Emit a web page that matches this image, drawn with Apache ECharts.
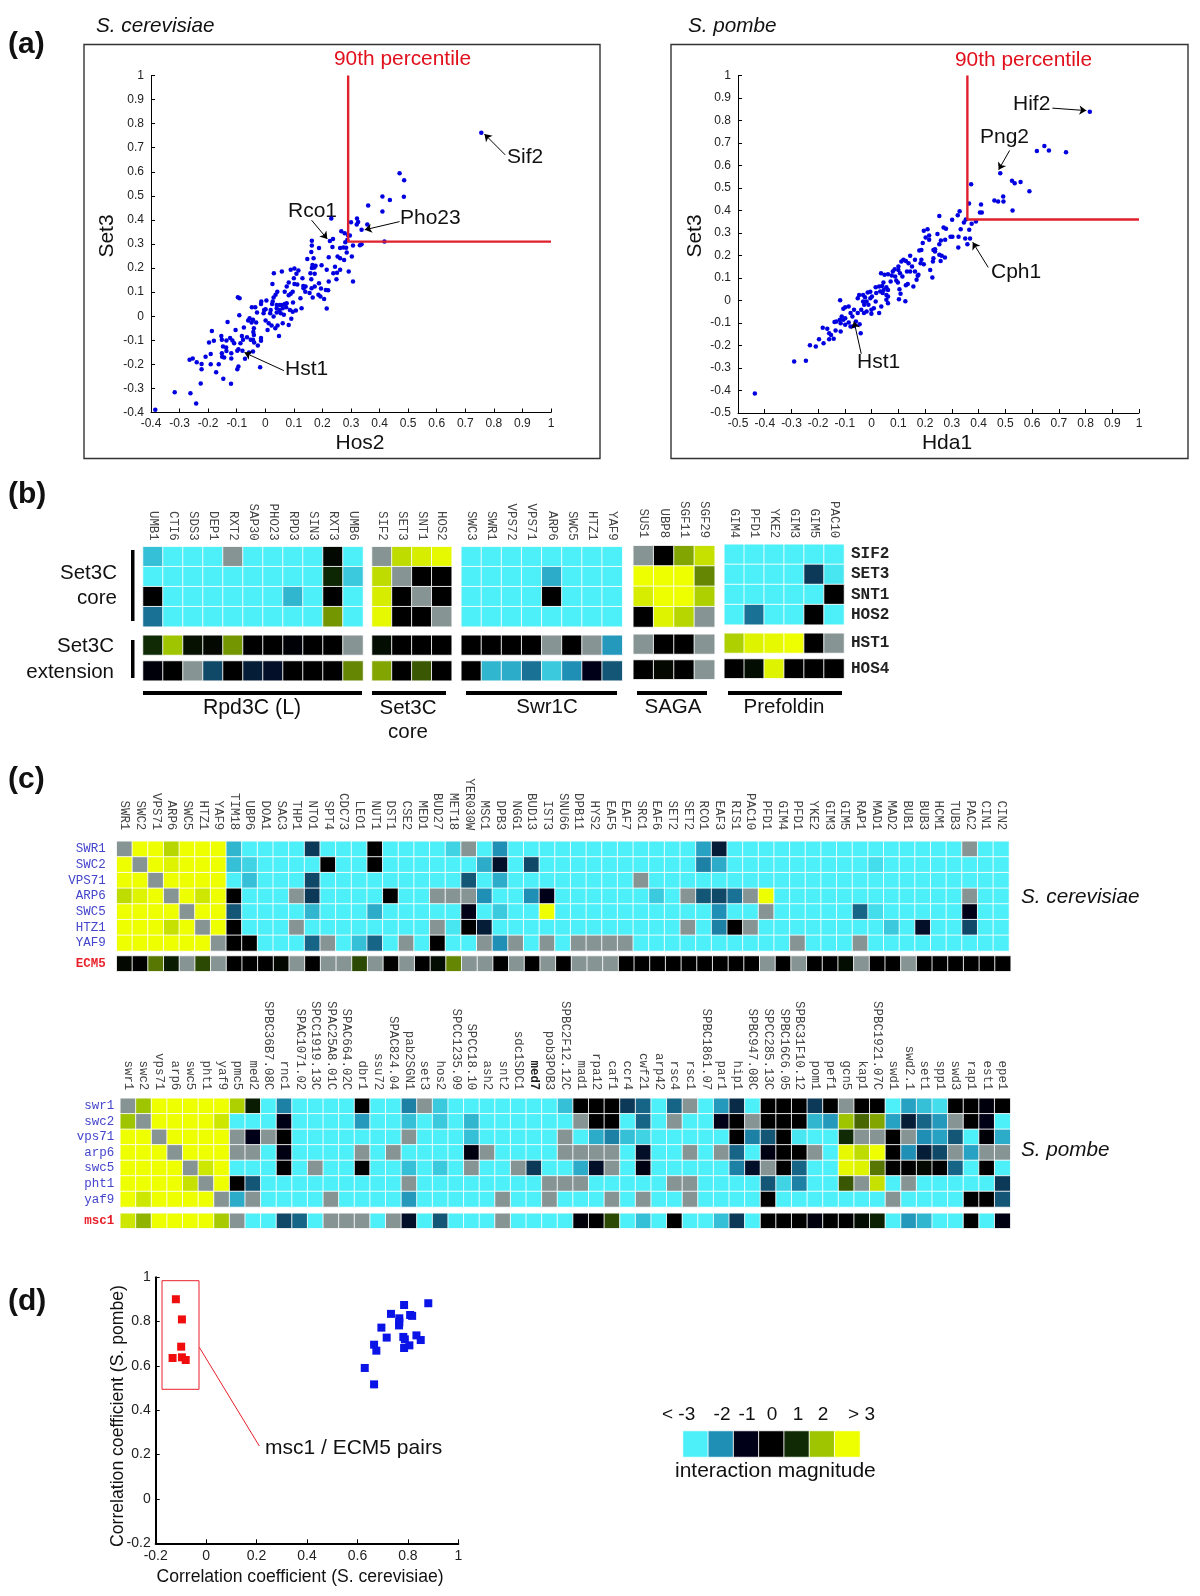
<!DOCTYPE html>
<html>
<head>
<meta charset="utf-8">
<title>Set3C interactions</title>
<script src="https://cdn.jsdelivr.net/npm/echarts@6/dist/echarts.min.js"></script>
<style>
  html, body { margin: 0; padding: 0; background: #fff; }
  #main { width: 1200px; height: 1596px; }
</style>
</head>
<body>
<div id="main"></div>
<script type="text/javascript">
// (a) scatter values, [x, y]
var cerevisiaePoints = [[.756,.762],[.47,.594],[.486,.565],[.485,.496],[.41,.497],[.436,.483],[.36,.46],[.41,.435],[.231,.406],[.30,.39],[.321,.406],[.325,.391],[.32,.381],[.357,.381],[.337,.359],[.417,.31],[.266,.353],[.278,.345],[.296,.335],[.29,.335],[.287,.317],[.28,.307],[.237,.321],[.226,.312],[.163,.314],[.163,.294],[.235,.288],[.273,.285],[.262,.283],[.283,.284],[.307,.294],[.331,.295],[.337,.299],[.188,.283],[.161,.267],[.285,.265],[.303,.248],[.253,.248],[.262,.241],[.276,.234],[.222,.245],[.169,.241],[.147,.238],[.165,.213],[.176,.21],[.163,.2],[.172,.202],[.197,.212],[.215,.193],[.244,.206],[.262,.193],[.251,.181],[.238,.179],[.292,.186],[.249,.154],[.307,.144],[.222,.144],[.158,.179],[.173,.176],[.161,.154],[.188,.137],[.195,.115],[.173,.123],[.162,.116],[.141,.123],[.134,.116],[.133,.126],[.14,.102],[.155,.096],[.166,.078],[.186,.089],[.193,.082],[.206,.071],[.212,.109],[.22,.108],[.215,.032],[.089,.193],[.102,.198],[.116,.19],[.109,.176],[.13,.158],[.1,.158],[.082,.14],[.102,.134],[.112,.132],[.058,.186],[.03,.179],[.025,.134],[.075,.123],[.068,.102],[.042,.102],[.096,.102],[.089,.093],[.082,.087],[.123,.075],[.097,.057],[.127,.033],[.036,.089],[.029,.078],[.026,.061],[.024,.051],[.04,.047],[.051,.047],[.058,.047],[.068,.051],[.075,.054],[.04,.033],[.05,.026],[.061,.033],[.073,.037],[.086,.026],[.096,.019],[.107,.024],[.04,.015],[.054,.012],[.065,.006],[.004,.065],[-.014,.061],[-.015,.051],[-.047,.037],[-.035,.037],[-.029,.015],[-.004,.026],[.001,.029],[-.006,.012],[.019,.026],[.017,.012],[.029,-.001],[-.096,.079],[-.09,.075],[-.091,.004],[-.055,-.008],[-.043,-.015],[-.06,-.018],[-.032,-.026],[-.048,-.026],[-.132,-.024],[.001,-.018],[.012,-.029],[.022,-.039],[.035,-.05],[.061,-.029],[.082,-.036],[.091,-.011],[.043,-.039],[.048,-.082],[.008,-.057],[-.075,-.047],[-.04,-.05],[-.042,-.066],[-.04,-.078],[-.015,-.091],[-.015,-.102],[-.051,-.098],[-.043,-.098],[-.039,-.109],[-.026,-.122],[-.064,-.087],[-.082,-.082],[-.104,-.057],[-.078,-.098],[-.087,-.112],[-.109,-.112],[-.123,-.091],[-.115,-.101],[-.154,-.082],[-.152,-.098],[-.136,-.101],[-.148,-.126],[-.137,-.13],[-.136,-.145],[-.152,-.154],[-.151,-.168],[-.119,-.154],[-.098,-.143],[-.094,-.137],[-.08,-.143],[-.057,-.151],[-.043,-.147],[-.071,-.177],[-.119,-.176],[-.144,-.172],[-.094,-.209],[-.098,-.22],[-.018,-.212],[-.385,-.389],[-.317,-.316],[-.262,-.32],[-.242,-.363],[-.265,-.181],[-.254,-.176],[-.24,-.191],[-.223,-.198],[-.223,-.22],[-.226,-.28],[-.209,-.168],[-.191,-.157],[-.191,-.2],[-.197,-.109],[-.187,-.061],[-.18,-.102],[-.172,-.233],[-.163,-.2],[-.147,-.26],[-.12,-.281]];
var pombePoints = [[.816,.839],[.646,.687],[.618,.665],[.663,.667],[.727,.659],[.481,.566],[.525,.532],[.535,.521],[.557,.527],[.59,.486],[.372,.517],[.492,.462],[.459,.444],[.473,.44],[.493,.44],[.527,.4],[.364,.431],[.409,.427],[.405,.391],[.412,.391],[.329,.397],[.322,.379],[.253,.376],[.352,.36],[.345,.347],[.39,.351],[.374,.341],[.301,.359],[.333,.317],[.365,.314],[.209,.317],[.195,.31],[.269,.324],[.278,.319],[.246,.296],[.215,.289],[.202,.28],[.215,.27],[.191,.256],[.295,.283],[.302,.283],[.325,.283],[.35,.276],[.368,.276],[.275,.27],[.259,.267],[.253,.25],[.358,.25],[.324,.236],[.237,.228],[.231,.225],[.237,.218],[.178,.222],[.186,.225],[.253,.203],[.262,.199],[.274,.191],[.231,.188],[.258,.176],[.229,.173],[.186,.181],[.183,.166],[.195,.161],[.219,.136],[.227,.102],[.111,.173],[.119,.181],[.128,.176],[.144,.199],[.162,.181],[.138,.166],[.151,.151],[.132,.129],[.144,.129],[.162,.129],[.172,.11],[.175,.114],[.168,.092],[.156,.062],[.128,.068],[.135,.073],[.115,.107],[.106,.121],[.086,.139],[.079,.129],[.088,.107],[.1,.151],[.1,.136],[.035,.121],[.048,.114],[.061,.117],[.075,.111],[.071,.084],[.092,.089],[.098,.08],[.044,.08],[.015,.059],[.028,.062],[.039,.065],[.055,.059],[.061,.047],[.045,.047],[.032,.04],[.041,.033],[.055,.025],[.061,.018],[.017,.033],[-.005,.039],[-.015,.036],[.001,.018],[-.025,.015],[-.032,.025],[-.047,.025],[-.052,.01],[-.005,.01],[-.019,-.004],[-.032,-.004],[-.028,-.019],[-.012,-.019],[-.001,-.041],[.008,-.034],[.028,-.056],[.061,-.012],[.104,.05],[.108,.03],[.102,.006],[.126,-.003],[.055,.003],[.036,-.027],[.015,-.004],[-.118,.001],[-.106,-.037],[-.086,-.027],[-.099,-.03],[-.066,-.041],[-.079,-.056],[-.072,-.071],[-.052,-.056],[-.039,-.041],[-.019,-.049],[-.001,-.059],[-.029,-.056],[-.112,-.071],[-.106,-.086],[-.119,-.086],[-.099,-.079],[-.132,-.093],[-.116,-.101],[-.099,-.108],[-.086,-.098],[-.059,-.093],[-.045,-.105],[-.066,-.113],[-.079,-.116],[-.041,-.145],[-.139,-.096],[-.183,-.121],[-.166,-.126],[-.159,-.145],[-.152,-.153],[-.135,-.133],[-.116,-.138],[-.142,-.17],[-.159,-.172],[-.18,-.19],[-.197,-.172],[-.209,-.204],[-.231,-.199],[-.29,-.271],[-.246,-.268],[-.437,-.413]];
var cerevisiaeCutoff = [0.29, 0.31];
var pombeCutoff = [0.358, 0.36];

// (d) scatter values
var conservedPairs = [[.629,.591],[.666,.517],[.666,.696],[.675,.669],[.695,.773],[.716,.728],[.733,.835],[.766,.815],[.766,.797],[.765,.783],[.785,.875],[.809,.83],[.817,.826],[.782,.731],[.788,.72],[.785,.681],[.806,.693],[.834,.738],[.851,.717],[.881,.883]];
var msc1Ecm5Pairs = [[-.12,.901],[-.096,.81],[-.099,.687],[-.133,.636],[-.096,.639],[-.081,.627]];

// heat map values, g = not measured (grey cell)
var g = null;
var legendValues = [-3, -2, -1, 0, 1, 2, 3];

// (b)
var rpd3Genes = ['UMB1','CTI6','SDS3','DEP1','RXT2','SAP30','PHO23','RPD3','SIN3','RXT3','UMB6'];
var rpd3Core = [
  [-2.5,-3,-3,-3,g,-3,-3,-3,-3,.2,-3],
  [-3,-3,-3,-3,-3,-3,-3,-3,-3,.9,-2.6],
  [0,-3,-3,-3,-3,-3,-3,-2.4,-3,0,-3],
  [-1.8,-3,-3,-3,-3,-3,-3,-3,-3,1.7,-3]];
var rpd3Hst1 = [1,2,.4,.2,1.7,0,0,-.3,0,0,g];
var rpd3Hos4 = [-.4,0,g,-1.5,0,-1.2,-1.1,0,0,0,1.6];
var set3Genes = ['SIF2','SET3','SNT1','HOS2'];
var set3Core = [[g,2.4,2.7,2.9],[2.4,g,0,0],[2.7,0,g,0],[2.9,0,0,g]];
var set3Hst1 = [.3,0,0,0];
var set3Hos4 = [1.8,0,1.3,0];
var swr1Genes = ['SWC3','SWR1','VPS72','VPS71','ARP6','SWC5','HTZ1','YAF9'];
var swr1Core = [
  [-3,-3,-3,-3,-3,-3,-3,-3],
  [-3,-3,-3,-3,-2.3,-3,-3,-3],
  [-3,-3,-3,-3,0,-3,-3,-3],
  [-3,-3,-3,-3,-3,-3,-3,-3]];
var swr1Hst1 = [0,0,0,0,g,0,g,-2.1];
var swr1Hos4 = [0,-2.4,-2.3,-1.8,-2.6,-2,-1,-1.6];
var sagaGenes = ['SUS1','UBP8','SGF11','SGF29'];
var sagaCore = [[g,0,1.8,2.5],[3,3,3,1.6],[2.7,3,3,2.2],[0,2.8,2.3,g]];
var sagaHst1 = [g,0,0,g];
var sagaHos4 = [0,.2,0,g];
var prefoldinGenes = ['GIM4','PFD1','YKE2','GIM3','GIM5','PAC10'];
var prefoldinCore = [
  [-3,-3,-3,-3,-3,-3],
  [-3,-3,-3,-3,-1.4,-2.9],
  [-3,-3,-3,-3,-3,0],
  [-3,-1.8,-3,-3,0,-3]];
var prefoldinHst1 = [2.2,2.8,2.9,3,0,g];
var prefoldinHos4 = [0,.3,2.8,0,0,0];
var coreRows = ['SIF2','SET3','SNT1','HOS2'];

// (c) S. cerevisiae
var cerGenes = ['SWR1','SWC2','VPS71','ARP6','SWC5','HTZ1','YAF9','TIM18','UBP6','DOA1','SAC3','THP1','NTO1','SPT4','CDC73','LEO1','NUT1','DST1','CSE2','MED1','BUD27','MET18','YER030W','MSC1','DPB3','NGG1','BUD13','IST3','SNU66','DPB11','HYS2','EAF5','EAF7','SRC1','EAF6','SET2','SET2','RCO1','EAF3','RIS1','PAC10','PFD1','GIM4','PFD1','YKE2','GIM3','GIM5','RAP1','MAD1','MAD2','BUB1','BUB3','HCM1','TUB3','PAC2','CIN1','CIN2'];
var cerRows = ['SWR1','SWC2','VPS71','ARP6','SWC5','HTZ1','YAF9'];
var cerMatrix = [
  [g,3,3,2.3,3,3,3,-2.4,-3,-3,-3,-3,-1.4,-3,-3,-3,0,-3,-3,-3,-3,-2.7,g,-3,-2,-3,-3,-3,-3,-3,-3,-3,-3,-3,-3,-3,-3,-2.2,-1.2,-3,-3,-3,-3,-3,-3,-3,-3,-3,-3,-3,-3,-3,-3,-3,g,-3,-3],
  [3,g,3,2.8,3,3,3,-2.5,-2.7,-3,-3,-3,-3,0,-3,-3,0,-3,-3,-3,-3,-3,-3,-2.3,-1.1,-3,-1.5,-3,-3,-3,-3,-3,-3,-3,-3,-3,-3,-1.9,-2.3,-3,-3,-3,-3,-3,-3,-3,-3,-3,-2.8,-3,-3,-3,-3,-3,-3,-3,-3],
  [3,3,g,3,3,3,3,-3,-2.5,-3,-3,-3,-1.5,-3,-3,-3,-3,-3,-3,-3,-3,-3,-1.6,-3,-2.3,-3,-3,-3,-3,-3,-3,-3,-3,g,-3,-3,-3,-3,-3,-3,-3,-3,-3,-3,-3,-3,-3,-3,-3,-3,-3,-3,-3,-3,-3,-3,-3],
  [2.4,2.8,3,g,3,2.6,3,0,-3,-3,-3,g,-1.4,-3,-3,-3,-3,0,-3,-3,g,g,g,-2,-3,-3,-2,-1,-3,-3,-3,-3,-3,-3,-2.6,-3,g,-1.6,-1.5,-1.8,g,3,-3,-3,-3,-3,-3,-3,-3,-3,-3,-3,-3,-3,g,-3,-3],
  [3,3,3,3,g,3,3,-1.6,-3,-3,-3,-3,-2.4,-3,-3,-3,-2.3,-3,-3,-3,-3,-3,-.9,-3,-2.6,-3,-3,3,-3,-3,-3,-3,-3,-3,-3,-3,-3,-3,-2,-3,-3,g,-3,-3,-3,-3,-3,-1.7,-2.8,-3,-3,-3,-3,-3,-.9,-3,-3],
  [3,3,3,2.5,3,g,3,0,-3,-3,-3,g,-3,-3,-3,-3,-3,-3,-3,-3,g,-2.9,0,-1.2,-3,-3,-3,-3,-3,-3,-3,-3,-3,-3,-3,-3,g,-3,-1.9,0,g,-3,-3,-3,-3,-3,-3,-3,-3,-2.6,-3,-1.1,-3,-3,-1.5,-3,-3],
  [3,3,3,3,3,3,g,0,0,-3,-3,-3,-1.7,g,-3,-2.5,-1.7,-3,g,-3,0,-3,-3,g,-2,g,-3,g,-3,g,g,g,g,-3,-3,-3,-3,-3,-3,-3,-3,-3,-3,g,-3,-3,-3,g,-3,-3,-3,-3,-3,-3,-3,-3,-3]];
var ecm5Row = [.2,0,1.5,.7,g,1.2,g,0,0,0,.2,g,0,g,g,1.2,g,0,g,0,.3,1.6,g,g,0,g,0,g,0,g,g,g,0,0,0,0,0,0,0,0,0,g,0,g,0,0,.3,g,0,0,g,0,0,0,0,0,0];

// (c) S. pombe
var pomGenes = ['swr1','swc2','vps71','arp6','swc5','pht1','yaf9','pmc5','med2','SPBC36B7.08C','rnc1','SPAC1071.02','SPCC1919.13C','SPAC25A8.01C','SPAC664.02C','dbr1','ssu72','SPAC824.04','pab2SGN1','set3','hos2','SPCC1235.09','SPCC18.10','ash2','snt2','sdc1SDC1','med7','pob3POB3','SPBC2F12.12C','mad1','rpa12','caf1','ccr4','cwf21','arp42','rsc4','rsc1','SPBC1861.07','par1','hip1','SPBC947.08C','SPCC285.13C','SPBC16C6.05','SPBC31F10.12','pom1','pef1','gcn5','kap1','SPBC1921.07C','swd1','swd2.1','set1','spp1','swd3','rap1','est1','epe1'];
var pomRows = ['swr1','swc2','vps71','arp6','swc5','pht1','yaf9'];
var pomMatrix = [
  [g,2,3,3,3,3,3,2.2,.7,-3,-1.9,-3,-3,-3,-3,0,-3,-3,-1.9,g,-2.6,-3,-3,-3,-3,-3,-3,-3,-2.5,0,0,0,-1.4,-1.7,-3,-1.7,g,-3,-2.1,-1.3,-3,0,0,0,-1.4,0,g,0,0,-3,-2.2,-2.5,-2.8,0,0,-.5,0],
  [2,g,3,3,3,3,2.6,-3,-3,-3,-.9,-3,-3,-3,-3,-2.1,-3,-3,-2.5,-3,-2.6,-3,-2.4,-3,-3,-3,-3,-3,-3,g,0,0,-3,-1.7,-3,g,-3,-3,-1,0,g,0,0,0,-2.4,-2.1,2,1.4,1.8,-2.2,-1.2,-1.7,-2.1,g,0,-.9,-3],
  [3,3,g,3,3,3,3,g,-1,g,0,-3,-3,-3,-3,-3,-3,-3,g,-3,-3,-3,-2.5,-3,-3,-3,-3,-3,g,-3,-2.3,-1.9,-2.5,-2.7,-3,-3,-3,-3,-3,0,-1.9,-1.6,0,-2.9,-3,-3,1,g,g,0,g,-2,-2.2,-1.6,-3,-.3,-2.3],
  [3,3,3,g,3,3,3,g,g,-3,-.8,-3,-3,-3,-3,g,-3,g,-3,-3,-3,-3,-.7,g,-3,-3,-3,-3,g,g,g,g,-3,-1.1,-3,-3,g,-3,g,-1.7,-3,-.8,0,0,g,-3,2.9,2.4,3,0,-2,-1.2,-1.5,g,-2.2,g,g],
  [3,3,3,3,g,2.6,3,-3,-3,-3,0,-3,g,-3,-3,0,-3,-3,-2.5,-3,-2.6,-3,g,-3,-3,g,-1.4,-3,-3,-2.3,-1.1,g,-3,-.8,-3,-3,-3,-3,-3,-1.9,-1.1,g,0,-1.7,-3,-3,2.9,2.8,1.5,0,0,.2,0,-1.7,-3,0,-3],
  [3,3,3,3,2.5,g,3,0,-1.6,-3,-3,-3,-3,-3,-3,-3,-3,-3,g,-3,-3,-3,-3,-3,-3,-3,-3,g,g,g,-3,-3,-3,-3,-3,g,g,-3,-3,-3,-3,-1.6,-2.7,-1.9,-3,-3,1.3,g,2.5,-3,g,-3,-3,-3,-3,-3,-1.4],
  [3,2.6,3,3,3,3,g,-2.3,g,-3,-3,-3,-3,g,-3,-3,-3,-3,-2.1,-3,-3,-3,-3,-3,g,-3,-3,g,-3,-3,-3,g,-3,g,-3,-3,g,-3,-3,-3,-3,0,-3,-3,-3,-3,-3,-3,-3,g,-3,-3,-3,-3,0,0,-1.6]];
var msc1Row = [2.6,1.9,3,3,3,3,2.1,g,-3,-3,-1.5,-1.7,-3,g,g,g,-3,g,-1.1,-3,-1.6,-3,-3,-3,g,-3,-3,-3,-3,-.4,0,1.2,-3,-2.5,-3,0,-3,-3,-2.5,-1.4,-3,0,0,0,-.6,0,0,.3,.8,-3,-2.1,-2.4,-3,-3,0,-3,-.8];

var NA_VALUE = 9;
var sans = '"Liberation Sans", Arial, sans-serif';
var mono = '"Liberation Mono", "Courier New", monospace';

var grids = [], xAxes = [], yAxes = [], series = [], heatSeries = [];

function heat(rect, rows, colNames, colMargin, rowNames, rowMargin, rowStyle) {
  var idx = grids.length;
  var data = [];
  rowStyle = rowStyle || {};
  rows.forEach(function (row, r) {
    row.forEach(function (v, c) {
      data.push([c, r, v === null ? NA_VALUE : v]);
    });
  });
  grids.push({ left: rect[0], top: rect[1], width: rect[2] - rect[0], height: rect[3] - rect[1] });
  xAxes.push({
    gridIndex: idx, type: 'category', position: 'top', show: !!colNames,
    data: colNames || rows[0].map(function (v, i) { return i; }),
    axisLine: { show: false }, axisTick: { show: false },
    axisLabel: {
      rotate: 90, interval: 0, margin: colMargin || 8, fontFamily: mono, fontSize: 12.4, color: '#444',
      formatter: function (v) { return v === 'med7' ? '{b|med7}' : v; },
      rich: { b: { fontFamily: mono, fontSize: 12.4, fontWeight: 'bold', color: '#222' } }
    }
  });
  yAxes.push({
    gridIndex: idx, type: 'category', inverse: true, show: !!rowNames, position: rowStyle.side || 'left',
    data: rowNames || rows.map(function (v, i) { return i; }),
    axisLine: { show: false }, axisTick: { show: false },
    axisLabel: {
      interval: 0, margin: rowMargin || 8, fontFamily: mono, fontSize: rowStyle.size || 12.5,
      fontWeight: rowStyle.weight || 'normal', color: rowStyle.color || '#4444cc', padding: rowStyle.padding || 0
    }
  });
  heatSeries.push(series.length);
  series.push({
    type: 'heatmap', xAxisIndex: idx, yAxisIndex: idx, data: data, silent: true,
    itemStyle: { borderColor: 'rgba(255,255,255,0.85)', borderWidth: 1 }
  });
}

function scatterGrid(rect, xRange, yRange, interval, tickSize, lineWidth, labelMargin) {
  var idx = grids.length;
  grids.push({ left: rect[0], top: rect[1], width: rect[2] - rect[0], height: rect[3] - rect[1] });
  function axis(range, pos, margin) {
    return {
      gridIndex: idx, type: 'value', min: range[0], max: range[1], interval: interval, position: pos,
      splitLine: { show: false },
      axisLine: { show: true, onZero: false, lineStyle: { color: '#000', width: lineWidth } },
      axisTick: { show: true, inside: true, length: 4, lineStyle: { color: '#000', width: 1 } },
      axisLabel: { show: true, margin: margin, fontFamily: sans, fontSize: tickSize, color: '#222', showMinLabel: true, showMaxLabel: true }
    };
  }
  xAxes.push(axis(xRange, 'bottom', labelMargin[0]));
  yAxes.push(axis(yRange, 'left', labelMargin[1]));
  return idx;
}

function arrows(list) {
  return {
    silent: true, animation: false, symbol: ['none', 'arrow'], symbolSize: 7,
    label: { show: false }, lineStyle: { color: '#000', width: 1, type: 'solid' },
    emphasis: { disabled: true },
    data: list.map(function (a) { return [{ coord: a[0] }, { coord: a[1] }]; })
  };
}

function dots(idx, points, color, size, symbol, markLine) {
  var s = { type: 'scatter', xAxisIndex: idx, yAxisIndex: idx, data: points, symbol: symbol, symbolSize: size, itemStyle: { color: color, opacity: 1 }, silent: true };
  if (markLine) s.markLine = markLine;
  series.push(s);
}

function cutoff(idx, c) {
  series.push({
    type: 'line', xAxisIndex: idx, yAxisIndex: idx, silent: true, symbol: 'none',
    lineStyle: { color: '#e0202c', width: 2.4 }, z: 3,
    data: [[c[0], 1], [c[0], c[1]], [1, c[1]]]
  });
}

// (a)
var a1 = scatterGrid([151, 75.5, 551, 412.5], [-0.4, 1], [-0.4, 1], 0.1, 12, 1, [5, 7]);
dots(a1, cerevisiaePoints, '#0000e0', 4.5, 'circle', arrows([
  [[.84,.67],[.767,.757]], [[.162,.399],[.217,.321]], [[.47,.393],[.348,.359]], [[.065,-.226],[-.073,-.151]]
]));
cutoff(a1, cerevisiaeCutoff);
var a2 = scatterGrid([738, 75.5, 1139, 413], [-0.5, 1], [-0.5, 1], 0.1, 12, 1, [5, 7]);
dots(a2, pombePoints, '#0000e0', 4.5, 'circle', arrows([
  [[.676,.855],[.803,.844]], [[.516,.667],[.475,.581]], [[.436,.147],[.378,.259]], [[-.039,-.237],[-.066,-.093]]
]));
cutoff(a2, pombeCutoff);

// (b)
var boldRight = { side: 'right', size: 16, weight: 'bold', color: '#222', padding: [0, 0, 6, 0] };
heat([143, 546.7, 363, 626.7], rpd3Core, rpd3Genes, 6);
heat([143, 635.3, 363, 655], [rpd3Hst1]);
heat([143, 661, 363, 680.7], [rpd3Hos4]);
heat([372, 546.7, 451.7, 626.7], set3Core, set3Genes, 6);
heat([372, 635.3, 451.7, 655], [set3Hst1]);
heat([372, 661, 451.7, 680.7], [set3Hos4]);
heat([461.3, 546.7, 622.3, 626.7], swr1Core, swr1Genes, 6);
heat([461.3, 635.3, 622.3, 655], [swr1Hst1]);
heat([461.3, 661, 622.3, 680.7], [swr1Hos4]);
heat([633.3, 545.7, 714.7, 627], sagaCore, sagaGenes, 7.5);
heat([633.3, 634.3, 714.7, 654], [sagaHst1]);
heat([633.3, 660, 714.7, 679.3], [sagaHos4]);
heat([724.3, 544.3, 844, 624.7], prefoldinCore, prefoldinGenes, 6, coreRows, 7, boldRight);
heat([724.3, 633.3, 844, 653], [prefoldinHst1], null, 0, ['HST1'], 7, boldRight);
heat([724.3, 659, 844, 678.3], [prefoldinHos4], null, 0, ['HOS4'], 7, boldRight);

// (c)
var redBold = { color: '#e8202a', weight: 'bold' };
heat([116.7, 841.3, 1009, 951], cerMatrix, cerGenes, 11, cerRows, 11);
heat([116.7, 956, 1010.7, 971.3], [ecm5Row], null, 0, ['ECM5'], 11, redBold);
heat([120.3, 1098.3, 1010.3, 1207], pomMatrix, pomGenes, 8, pomRows, 6);
heat([120.3, 1213.3, 1010.3, 1228.3], [msc1Row], null, 0, ['msc1'], 6, redBold);

// (d)
var d1 = scatterGrid([155.7, 1277.3, 458.3, 1543.3], [-0.2, 1], [-0.2, 1], 0.2, 14, 2, [6, 5]);
dots(d1, conservedPairs, '#0a14e6', 8, 'rect');
dots(d1, msc1Ecm5Pairs, '#f00d0d', 8, 'rect');

// colour key
heat([683, 1431, 860, 1457], [legendValues]);

function T(text, x, y, size, opts) {
  opts = opts || {};
  return {
    type: 'text', x: x, y: y, rotation: opts.rotation || 0, silent: true,
    style: {
      text: text, fill: opts.fill || '#111', textAlign: opts.align || 'left', textVerticalAlign: 'middle',
      font: (opts.font || '') + ' ' + size + 'px ' + sans
    }
  };
}
function box(x, y, w, h, stroke, lineWidth) {
  return { type: 'rect', silent: true, shape: { x: x, y: y, width: w, height: h }, style: { fill: 'none', stroke: stroke, lineWidth: lineWidth } };
}
function bar(x, y, w, h) {
  return { type: 'rect', silent: true, shape: { x: x, y: y, width: w, height: h }, style: { fill: '#000' } };
}

var elements = [
  box(84, 44.5, 516, 414, '#333', 1.4),
  box(671, 44.5, 517, 414, '#333', 1.4),

  T('(a)', 8, 45, 30, { font: 'bold' }),
  T('(b)', 8, 495, 30, { font: 'bold' }),
  T('(c)', 8, 780, 30, { font: 'bold' }),
  T('(d)', 8, 1302, 30, { font: 'bold' }),

  T('S. cerevisiae', 96, 26, 20.7, { font: 'italic' }),
  T('S. pombe', 688, 26, 20.7, { font: 'italic' }),
  T('90th percentile', 334, 59, 20.9, { fill: '#e0101c' }),
  T('90th percentile', 955, 60, 20.9, { fill: '#e0101c' }),
  T('Hos2', 360, 443, 21, { align: 'center' }),
  T('Hda1', 947, 443, 21, { align: 'center' }),
  T('Set3', 107, 236, 21, { align: 'center', rotation: Math.PI / 2 }),
  T('Set3', 695, 236, 21, { align: 'center', rotation: Math.PI / 2 }),
  T('Sif2', 507, 157, 21),
  T('Rco1', 288, 211, 21),
  T('Pho23', 400, 218, 21),
  T('Hst1', 285, 369, 21),
  T('Hif2', 1013, 104, 21),
  T('Png2', 980, 137, 21),
  T('Cph1', 991, 272, 21),
  T('Hst1', 857, 362, 21),

  T('Set3C', 117, 573, 20.5, { align: 'right' }),
  T('core', 117, 598, 20.5, { align: 'right' }),
  T('Set3C', 114, 646, 20.5, { align: 'right' }),
  T('extension', 114, 672, 20.5, { align: 'right' }),
  bar(131, 550, 3.5, 71),
  bar(131, 640, 3.5, 38),
  bar(143, 691, 219, 4),
  bar(372, 691, 74, 4),
  bar(466, 691, 151, 4),
  bar(637, 691, 70, 4),
  bar(728, 691, 114, 4),
  T('Rpd3C (L)', 252, 708, 21.3, { align: 'center' }),
  T('Set3C', 408, 708, 20.5, { align: 'center' }),
  T('core', 408, 732, 20.5, { align: 'center' }),
  T('Swr1C', 547, 707, 20.5, { align: 'center' }),
  T('SAGA', 673, 707, 20.5, { align: 'center' }),
  T('Prefoldin', 784, 707, 20.5, { align: 'center' }),

  T('S. cerevisiae', 1021, 897, 20.7, { font: 'italic' }),
  T('S. pombe', 1021, 1150, 20.7, { font: 'italic' }),

  box(162, 1280.7, 37, 108.6, '#e8202a', 1),
  { type: 'line', silent: true, shape: { x1: 199.3, y1: 1347.3, x2: 259.3, y2: 1446 }, style: { stroke: '#e8202a', lineWidth: 1 } },
  T('msc1 / ECM5 pairs', 265, 1448, 21),
  T('Correlation coefficient (S. cerevisiae)', 300, 1577, 17.6, { align: 'center' }),
  T('Correlation coefficient (S. pombe)', 118, 1416, 17.6, { align: 'center', rotation: Math.PI / 2 }),

  T('< -3', 662, 1415, 19),
  T('-2', 722, 1415, 19, { align: 'center' }),
  T('-1', 747, 1415, 19, { align: 'center' }),
  T('0', 772, 1415, 19, { align: 'center' }),
  T('1', 798, 1415, 19, { align: 'center' }),
  T('2', 823, 1415, 19, { align: 'center' }),
  T('> 3', 875, 1415, 19, { align: 'right' }),
  T('interaction magnitude', 675, 1471, 21)
];

var myChart = echarts.init(document.getElementById('main'), null, { renderer: 'canvas' });
var option = {
  animation: false,
  backgroundColor: '#fff',
  tooltip: { show: false },
  grid: grids,
  xAxis: xAxes,
  yAxis: yAxes,
  visualMap: {
    // max sits just above the range end so NA_VALUE falls out of range and turns grey
    show: false, type: 'continuous', min: -3, max: 3.001, range: [-3, 3], dimension: 2, seriesIndex: heatSeries,
    inRange: { color: ['#4df0f8', '#1f8fb5', '#000018', '#000000', '#0f2a04', '#9fc400', '#eeff00'] },
    outOfRange: { color: '#879494' }
  },
  series: series,
  graphic: { elements: elements }
};
myChart.setOption(option);
</script>
</body>
</html>
